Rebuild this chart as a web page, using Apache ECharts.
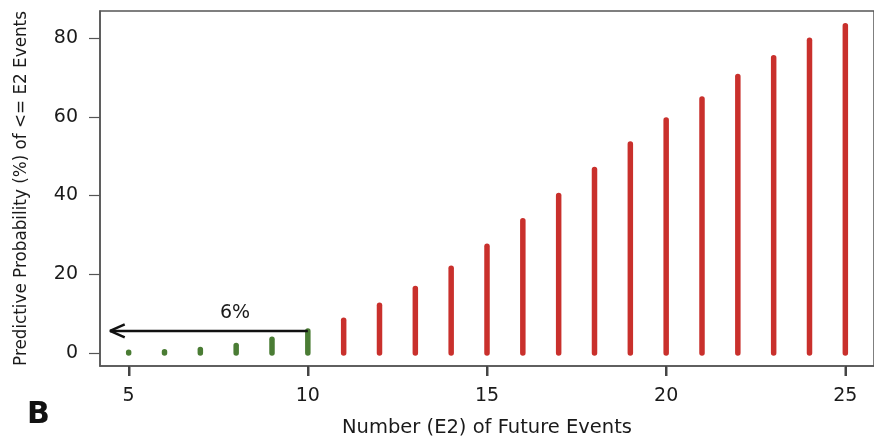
<!DOCTYPE html>
<html>
<head>
<meta charset="utf-8">
<script src="https://cdn.jsdelivr.net/npm/echarts@6/dist/echarts.min.js"></script>
<style>
html,body{margin:0;padding:0;background:#fff;}
#chart{width:874px;height:443px;}
</style>
</head>
<body>
<div id="chart"></div>
<script>
const events = [5, 6, 7, 8, 9, 10, 11, 12, 13, 14, 15, 16, 17, 18, 19, 20, 21, 22, 23, 24, 25];
const probability = [0.2, 0.3, 0.9, 1.9, 3.5, 5.6, 8.3, 12.1, 16.4, 21.5, 27.1, 33.6, 40.0, 46.6, 53.1, 59.2, 64.5, 70.2, 75.0, 79.4, 83.1];
const cutoff = 10;
const xTicks = [5, 10, 15, 20, 25];
const yTicks = [0, 20, 40, 60, 80];
const arrowY = 5.6;
const arrowTipX = 4.48;
const arrowLabel = '6%';
const arrowLabelPos = [7.97, 10.1];
const xTitle = 'Number (E2) of Future Events';
const yTitle = 'Predictive Probability (%) of <= E2 Events';
const panelLabel = 'B';

const xMin = 4.2, xMax = 25.8, yMin = -3.3, yMax = 86.86;

const greenData = [], redData = [];
events.forEach((e, i) => {
  if (e <= cutoff) greenData.push([e, probability[i]]);
  else redData.push([e, probability[i]]);
});

function spike(color) {
  return function (params, api) {
    const top = api.coord([api.value(0), api.value(1)]);
    const base = api.coord([api.value(0), 0]);
    return {
      type: 'line',
      shape: {x1: base[0], y1: base[1], x2: top[0], y2: top[1]},
      style: {stroke: color, lineWidth: 5.5, lineCap: 'round'}
    };
  };
}

function xTickMark(params, api) {
  const p = api.coord([api.value(0), yMin]);
  return {
    type: 'line',
    shape: {x1: Math.round(p[0]) + 0.5, y1: p[1] + 1, x2: Math.round(p[0]) + 0.5, y2: p[1] + 10},
    style: {stroke: '#444', lineWidth: 2},
    z2: 100
  };
}

const chart = echarts.init(document.getElementById('chart'));
const font = 'DejaVu Sans';
const txt = '#1a1a1a';
chart.setOption({
  animation: false,
  backgroundColor: '#ffffff',
  grid: {left: 100, top: 11, width: 784, height: 355, show: true, borderColor: '#555', borderWidth: 1.5, backgroundColor: 'transparent'},
  xAxis: {
    type: 'value', min: xMin, max: xMax, position: 'bottom',
    axisLine: {show: true, onZero: false, lineStyle: {color: '#555', width: 1.5}},
    splitLine: {show: false},
    axisTick: {show: true, length: 10, lineStyle: {color: '#444', width: 2}, customValues: xTicks},
    axisLabel: {customValues: xTicks, color: txt, fontFamily: font, fontSize: 19, margin: 21},
    name: xTitle, nameLocation: 'middle', nameGap: 52,
    nameTextStyle: {color: txt, fontFamily: font, fontSize: 19.5}
  },
  yAxis: {
    type: 'value', min: yMin, max: yMax, position: 'left',
    axisLine: {show: true, onZero: false, lineStyle: {color: '#555', width: 1.5}},
    splitLine: {show: false},
    axisTick: {show: true, length: 11, lineStyle: {color: '#555', width: 1.2}, customValues: yTicks},
    axisLabel: {customValues: yTicks, color: txt, fontFamily: font, fontSize: 19, margin: 22},
    name: yTitle, nameLocation: 'middle', nameGap: 70,
    nameTextStyle: {color: txt, fontFamily: font, fontSize: 16.8}
  },
  series: [
    {type: 'custom', data: xTicks.map(v => [v]), renderItem: xTickMark, clip: false, silent: true, z: 10},
    {type: 'custom', data: greenData, renderItem: spike('#4a7c34'), silent: true},
    {type: 'custom', data: redData, renderItem: spike('#c9302c'), silent: true},
    {type: 'line', data: [[cutoff, arrowY], [arrowTipX, arrowY]], symbol: 'none', lineStyle: {color: '#111', width: 2.5}, silent: true},
    {type: 'line', data: [[arrowTipX + 0.41, arrowY + 1.65], [arrowTipX, arrowY], [arrowTipX + 0.41, arrowY - 1.65]], symbol: 'none', lineStyle: {color: '#111', width: 2.5}, silent: true},
    {type: 'scatter', data: [arrowLabelPos], symbolSize: 0, silent: true, itemStyle: {opacity: 1},
      label: {show: true, position: 'inside', formatter: arrowLabel, color: txt, opacity: 1, fontFamily: font, fontSize: 19}}
  ],
  graphic: [
    {type: 'text', left: 27, top: 400, style: {text: panelLabel, fontFamily: font, fontWeight: 'bold', fontSize: 30, fill: '#111'}}
  ]
});
</script>
</body>
</html>
